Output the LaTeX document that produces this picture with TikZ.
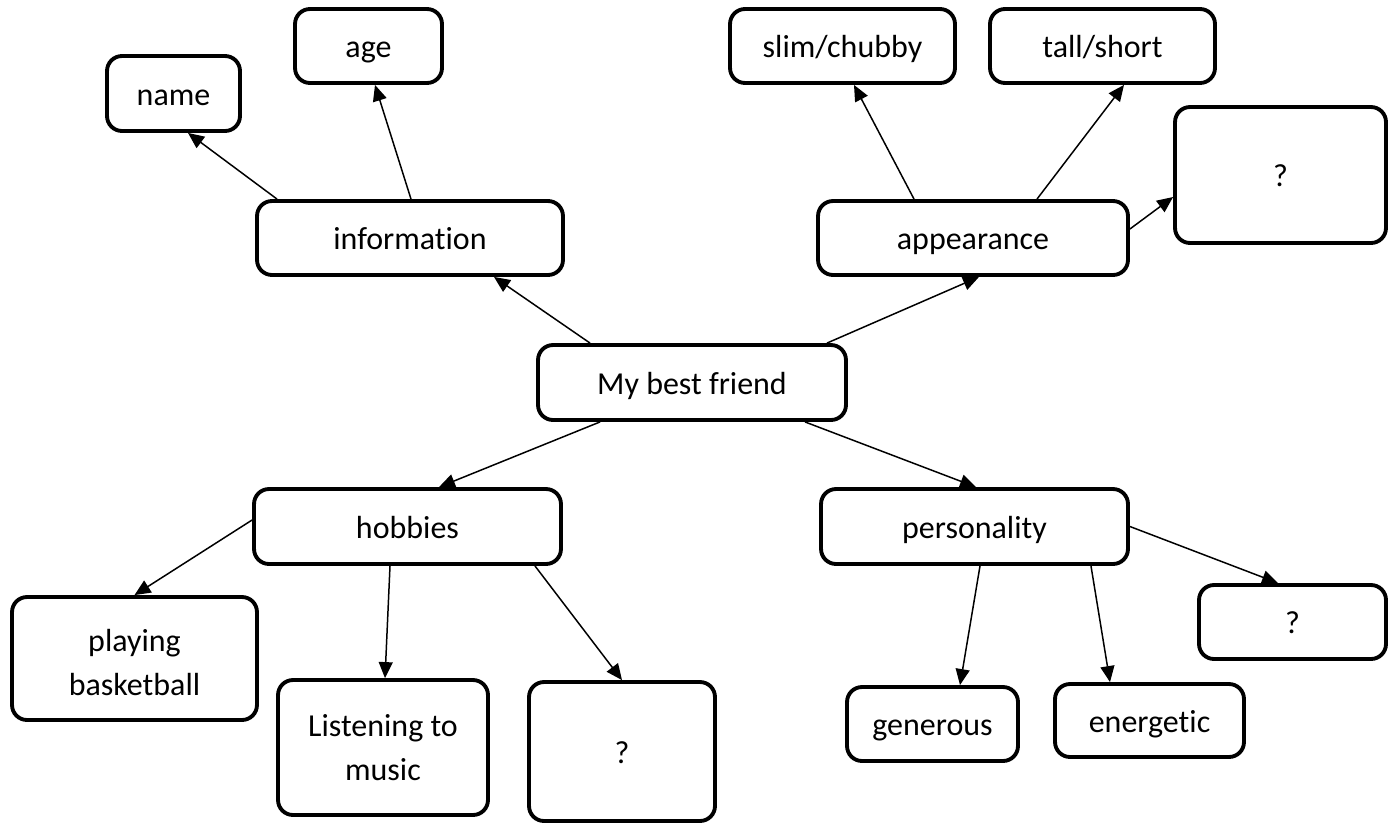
\documentclass[tikz,border=0pt]{standalone}
\usepackage{fontspec}
\setmainfont{Carlito}[Ligatures=NoCommon]
\usetikzlibrary{arrows.meta}
\begin{document}
\begin{tikzpicture}[x=0.02cm,y=-0.02cm,
        box/.style={draw,line width=2.2pt,rounded corners=0.3cm,align=center,
            text height=13.6pt,text depth=0pt,font=\fontsize{18.2}{25}\selectfont},
        twoline/.style={box,text height=,text depth=},
        link/.style={-{Triangle[length=0.32cm,width=0.28cm]},line width=0.85pt}]
        \useasboundingbox (0,0) rectangle (1395,825);
        \node[box,minimum width=6.16cm,minimum height=1.5cm] (friend) at (692,382.5) {My best friend};
        \node[box,minimum width=6.12cm,minimum height=1.48cm] (info) at (410,238) {information};
        \node[box,minimum width=2.66cm,minimum height=1.5cm] (name) at (173.5,93.5) {name};
        \node[box,minimum width=2.94cm,minimum height=1.48cm] (age) at (368.5,46) {age};
        \node[box,minimum width=6.2cm,minimum height=1.48cm] (look) at (973,238) {appearance};
        \node[box,minimum width=4.5cm,minimum height=1.48cm] (slim) at (842.5,46) {slim/chubby};
        \node[box,minimum width=4.5cm,minimum height=1.48cm] (tall) at (1102.5,46) {tall/short};
        \node[box,minimum width=4.22cm,minimum height=2.72cm] (lookq) at (1280.5,175) {?};
        \node[box,minimum width=6.14cm,minimum height=1.5cm] (hobby) at (407.5,526.5) {hobbies};
        \node[twoline,text height=42pt,text depth=0pt,minimum width=4.9cm,minimum height=2.46cm] (ball) at (134.5,658.5) {playing\\basketball};
        \node[twoline,minimum width=4.2cm,minimum height=2.7cm] (music) at (383,747.5) {Listening to\\music};
        \node[box,minimum width=3.72cm,minimum height=2.78cm] (hobbyq) at (622,751.5) {?};
        \node[box,minimum width=6.14cm,minimum height=1.5cm] (pers) at (974.5,526.5) {personality};
        \node[box,minimum width=3.42cm,minimum height=1.48cm] (gen) at (932.5,724) {generous};
        \node[box,minimum width=3.78cm,minimum height=1.46cm] (ener) at (1149.5,720.5) {energetic};
        \node[box,minimum width=3.74cm,minimum height=1.48cm] (persq) at (1292.5,622) {?};
        \draw[link] ([xshift=-2.04cm]friend.north) -- ([xshift=1.68cm]info.south);
        \draw[link] ([xshift=2.7cm]friend.north) -- ([xshift=0.12cm]look.south);
        \draw[link] ([xshift=-1.84cm]friend.south) -- ([xshift=0.63cm]hobby.north);
        \draw[link] ([xshift=2.26cm]friend.south) -- ([xshift=0.03cm]pers.north);
        \draw[link] ([xshift=-2.66cm]info.north) -- ([xshift=0.29cm]name.south);
        \draw[link] ([xshift=0.02cm]info.north) -- ([xshift=0.13cm]age.south);
        \draw[link] ([xshift=-1.18cm]look.north) -- ([xshift=0.23cm]slim.south);
        \draw[link] ([xshift=1.28cm]look.north) -- ([xshift=0.43cm]tall.south);
        \draw[link] ([yshift=0.18cm]look.east) -- ([yshift=-0.44cm]lookq.west);
        \draw[link] ([yshift=0.13cm]hobby.west) -- (ball.north);
        \draw[link] ([xshift=-0.35cm]hobby.south) -- ([xshift=0.04cm]music.north);
        \draw[link] ([xshift=2.55cm]hobby.south) -- (hobbyq.north);
        \draw[link] ([xshift=0.11cm]pers.south) -- ([xshift=0.55cm]gen.north);
        \draw[link] ([xshift=2.33cm]pers.south) -- ([xshift=-0.79cm]ener.north);
        \draw[link] (pers.east) -- ([xshift=-0.29cm]persq.north);
    \end{tikzpicture}
\end{document}
